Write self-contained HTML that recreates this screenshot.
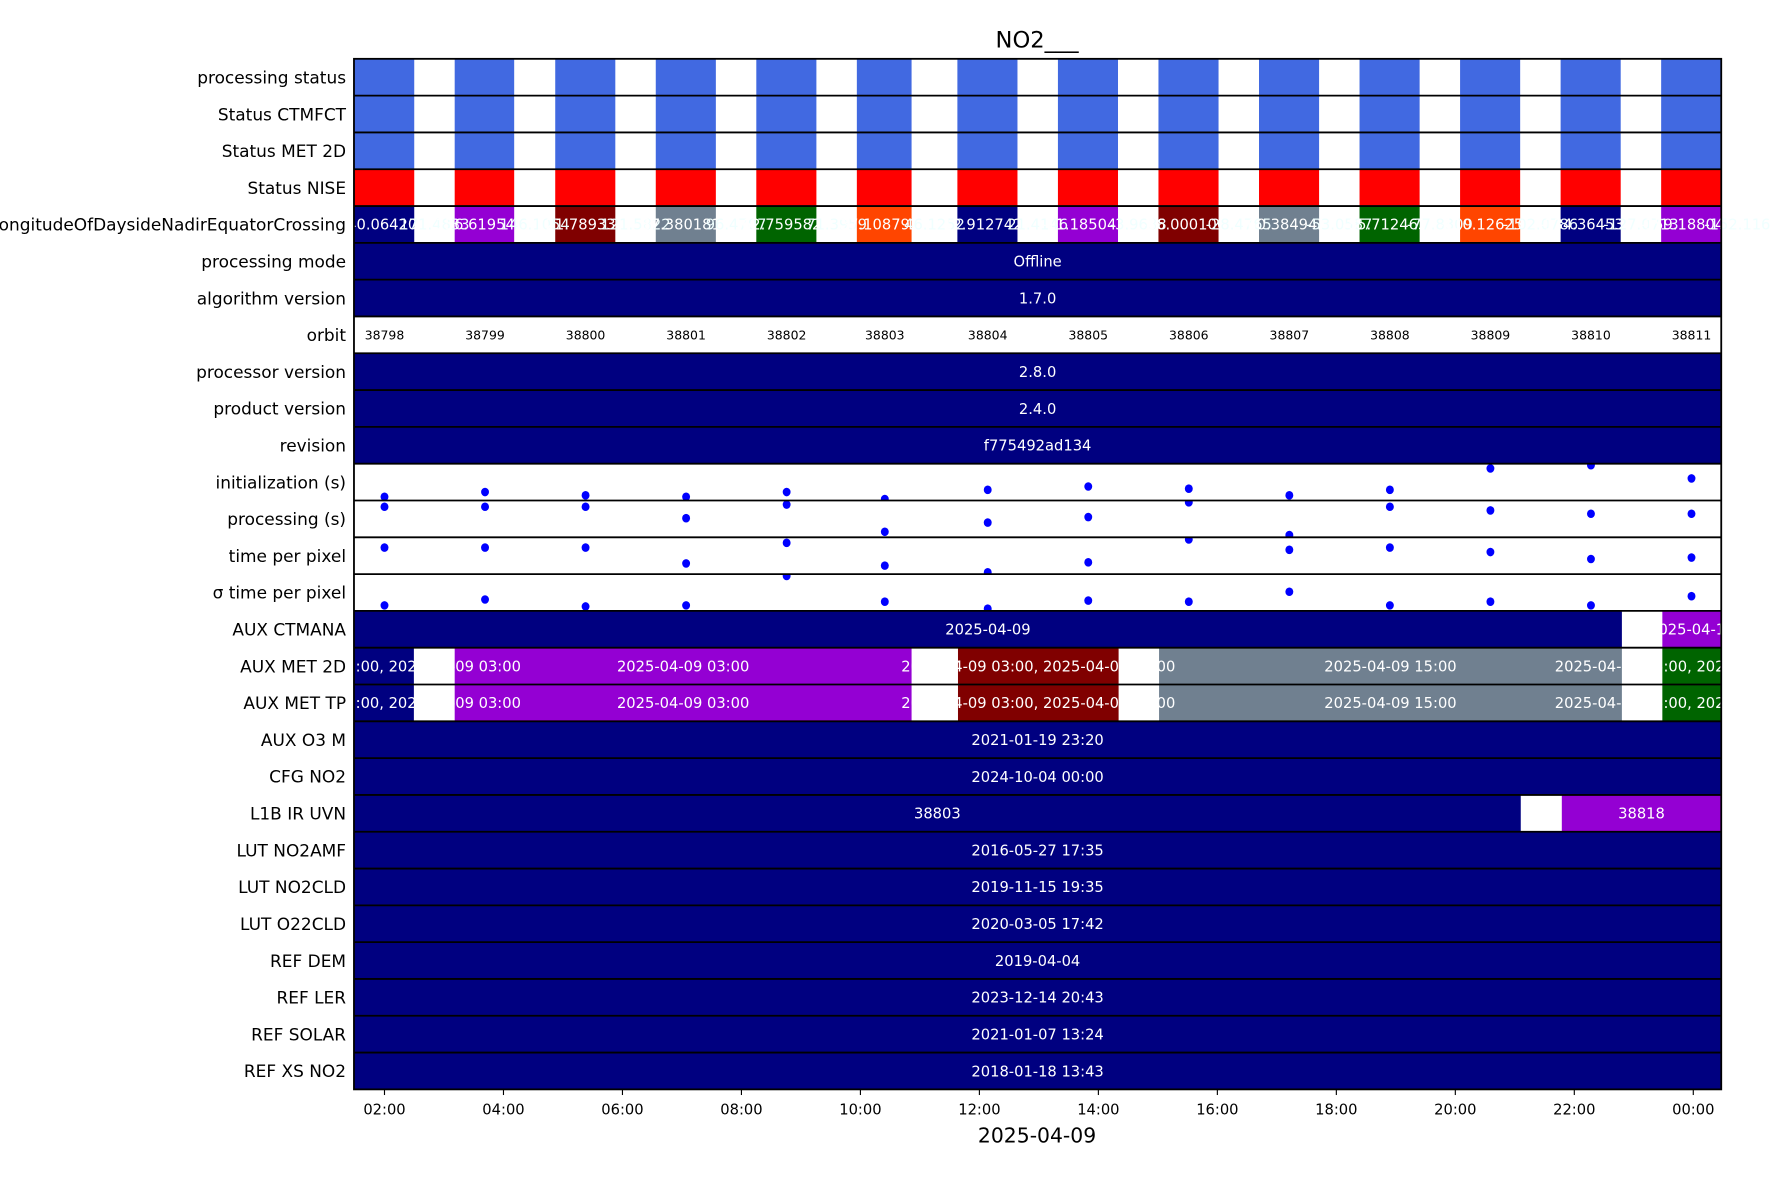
<!DOCTYPE html>
<html><head><meta charset="utf-8"><style>
html,body{margin:0;padding:0;background:#fff;width:1771px;height:1181px;overflow:hidden}
svg text{font-family:"DejaVu Sans","Liberation Sans",sans-serif}
</style></head><body>
<svg id="chart" width="1771" height="1181" viewBox="0 0 1566 1044" preserveAspectRatio="none" xmlns="http://www.w3.org/2000/svg">
<rect x="0" y="0" width="1566" height="1044" fill="#fff"/>
<text x="917" y="42" font-size="20" text-anchor="middle">NO2___</text>
<text x="917" y="1010" font-size="18" text-anchor="middle">2025-04-09</text>
<g id="bars"></g>
<g id="dots"></g>
<g id="texts"></g>
<g id="lines"></g>
<g id="ylabels"></g>
<g id="xaxis"></g>
</svg>
<script>
const rowLabels = ["processing status","Status CTMFCT","Status MET 2D","Status NISE","LongitudeOfDaysideNadirEquatorCrossing","processing mode","algorithm version","orbit","processor version","product version","revision","initialization (s)","processing (s)","time per pixel","\u03c3 time per pixel","AUX CTMANA","AUX MET 2D","AUX MET TP","AUX O3   M","CFG NO2","L1B IR UVN","LUT NO2AMF","LUT NO2CLD","LUT O22CLD","REF DEM","REF LER","REF SOLAR","REF XS NO2"];
const orbitStart = [1.49,3.18,4.87,6.56,8.25,9.94,11.63,13.32,15.01,16.70,18.39,20.08,21.77,23.46];
const orbitEnd = [2.50,4.18,5.88,7.57,9.26,10.86,12.64,14.33,16.02,17.71,19.40,21.09,22.78,24.47];
const orbitNumbers = ["38798","38799","38800","38801","38802","38803","38804","38805","38806","38807","38808","38809","38810","38811"];
const orbitMid = [2.0,3.69,5.38,7.07,8.76,10.41,12.14,13.83,15.52,17.21,18.90,20.59,22.28,23.97];
const lonColors = ["#000080","#9400d3","#800000","#708090","#006400","#ff4500","#000080","#9400d3","#800000","#708090","#006400","#ff4500","#000080","#9400d3"];
const lonLabels = ["-140.0642089","156.6195495","121.7893375","87.3801818","62.7595825","37.1087921","12.9127426","-11.1850472","-36.0001065","-60.3849426","-85.7124631","-110.1262511","-134.3645324","-159.1880491"];
const gapLabels = ["171.4833","146.1054","121.5822","96.4707","71.3959","46.1252","21.4146","-3.9638","-28.4765","-53.0587","-77.8309","-102.0786","-127.0713","-152.1164"];
const initVals = [0.10,0.23,0.14,0.10,0.23,0.04,0.29,0.38,0.32,0.14,0.29,0.87,0.96,0.60];
const procVals = [0.83,0.83,0.83,0.52,0.89,0.15,0.40,0.55,0.95,0.06,0.83,0.73,0.64,0.64];
const tppVals = [0.72,0.72,0.72,0.29,0.85,0.23,0.05,0.32,0.94,0.66,0.72,0.60,0.41,0.45];
const sigmaVals = [0.15,0.31,0.12,0.15,0.95,0.25,0.06,0.28,0.25,0.52,0.15,0.25,0.15,0.40];
const fullRows = {5:"Offline",6:"1.7.0",8:"2.8.0",9:"2.4.0",10:"f775492ad134",18:"2021-01-19 23:20",19:"2024-10-04 00:00",21:"2016-05-27 17:35",22:"2019-11-15 19:35",23:"2020-03-05 17:42",24:"2019-04-04",25:"2023-12-14 20:43",26:"2021-01-07 13:24",27:"2018-01-18 13:43"};
const ctmanaSegs = [[1.487,22.80,"#000080","2025-04-09"],[23.48,24.47,"#9400d3","2025-04-10"]];
const met2dSegs = [[1.487,2.494,"#000080","2025-04-08 21:00, 2025-04-09 03:00"],[3.18,10.86,"#9400d3","2025-04-09 03:00"],[11.64,14.34,"#800000","2025-04-09 03:00, 2025-04-09 15:00"],[15.02,22.80,"#708090","2025-04-09 15:00"],[23.48,24.47,"#006400","2025-04-09 15:00, 2025-04-10 03:00"]];
const mettpSegs = [[1.487,2.494,"#000080","2025-04-08 21:00, 2025-04-09 03:00"],[3.18,10.86,"#9400d3","2025-04-09 03:00"],[11.64,14.34,"#800000","2025-04-09 03:00, 2025-04-09 15:00"],[15.02,22.80,"#708090","2025-04-09 15:00"],[23.48,24.47,"#006400","2025-04-09 15:00, 2025-04-10 03:00"]];
const l1bSegs = [[1.487,21.10,"#000080","38803"],[21.79,24.47,"#9400d3","38818"]];
const tickHours = [2,4,6,8,10,12,14,16,18,20,22,24];
const tickLabels = ["02:00","04:00","06:00","08:00","10:00","12:00","14:00","16:00","18:00","20:00","22:00","00:00"];

const NS="http://www.w3.org/2000/svg";
const X0=313,X1=1522,Y0=52,Y1=963,H0=1.487,H1=24.47;
const rowH=(Y1-Y0)/rowLabels.length;
function xs(h){return X0+(h-H0)/(H1-H0)*(X1-X0);}
function rowTop(i){return Y0+i*rowH;}
function mk(tag,parent,attrs){const e=document.createElementNS(NS,tag);for(const k in attrs)e.setAttribute(k,attrs[k]);parent.appendChild(e);return e;}
const bars=document.getElementById('bars'),dots=document.getElementById('dots'),texts=document.getElementById('texts'),lines=document.getElementById('lines'),yl=document.getElementById('ylabels'),xa=document.getElementById('xaxis');
const svg=document.getElementById('chart');
const defs=mk('defs',svg,{});
const cp=mk('clipPath',defs,{id:'plotclip'});mk('rect',cp,{x:X0,y:Y0,width:X1-X0,height:Y1-Y0});

function bar(row,h0,h1,color,name){
  const r=mk('rect',bars,{x:xs(h0),y:rowTop(row),width:Math.max(0,xs(h1)-xs(h0)),height:rowH,fill:color});
  
  
}
function label(row,h,txt,color,size,clip,name){
  const t=mk('text',texts,{x:xs(h),y:rowTop(row)+rowH/2+size*0.36,'font-size':size,'text-anchor':'middle',fill:color});
  if(clip)t.setAttribute('clip-path','url(#plotclip)');
  t.textContent=txt;
  
  
}
const statusColors=["#4169e1","#4169e1","#4169e1","#ff0000"];
for(let r=0;r<4;r++){for(let i=0;i<orbitStart.length;i++){bar(r,orbitStart[i],orbitEnd[i],statusColors[r],'status-bar');}}
for(let i=0;i<orbitStart.length;i++){
  bar(4,orbitStart[i],orbitEnd[i],lonColors[i],'longitude-bar');
}
for(let i=0;i<orbitStart.length;i++){
  label(4,(orbitStart[i]+orbitEnd[i])/2,lonLabels[i],"#ffffff",13,false,'longitude-value');
  const gm=i<orbitStart.length-1?(orbitEnd[i]+orbitStart[i+1])/2:orbitEnd[i]+0.35;
  label(4,gm,gapLabels[i],"#f0ffff",13,false,'longitude-gap-value');
}
for(const k in fullRows){bar(+k,H0,H1,"#000080",'full-row-bar');label(+k,(H0+H1)/2,fullRows[k],"#ffffff",13,false,'row-value');}
for(let i=0;i<orbitNumbers.length;i++){label(7,orbitMid[i],orbitNumbers[i],"#000000",11,false,'orbit-number');}
function segRow(row,segs,clip,name){
  for(const s of segs)bar(row,s[0],s[1],s[2],name+'-bar');
  for(const s of segs)label(row,(s[0]+s[1])/2,s[3],"#ffffff",13,clip,name+'-label');
}
segRow(15,ctmanaSegs,true,'aux-ctmana');
segRow(16,met2dSegs,false,'aux-met-2d');
segRow(17,mettpSegs,false,'aux-met-tp');
segRow(20,l1bSegs,false,'l1b-ir-uvn');
function dotRow(row,vals,name){
  const c=mk('clipPath',defs,{id:'rc'+row});mk('rect',c,{x:X0,y:rowTop(row),width:X1-X0,height:rowH});
  for(let i=0;i<vals.length;i++){
    const d=mk('ellipse',dots,{cx:xs(orbitMid[i]),cy:rowTop(row+1)-vals[i]*rowH,rx:3.5,ry:3.8,fill:"#0000ff",'clip-path':'url(#rc'+row+')'});
    
    
  }
}
dotRow(11,initVals,'initialization');
dotRow(12,procVals,'processing');
dotRow(13,tppVals,'time-per-pixel');
dotRow(14,sigmaVals,'sigma-time-per-pixel');
for(let i=1;i<rowLabels.length;i++){const l=mk('line',lines,{x1:X0,x2:X1,y1:rowTop(i),y2:rowTop(i),stroke:"#000",'stroke-width':1.6});
  
  }
const fr=mk('rect',lines,{x:X0,y:Y0,width:X1-X0,height:Y1-Y0,fill:'none',stroke:'#000','stroke-width':1.6});


for(let i=0;i<rowLabels.length;i++){
  const t=mk('text',yl,{x:306,y:rowTop(i)+rowH/2+5.5,'font-size':15,'text-anchor':'end',fill:'#000'});
  t.textContent=rowLabels[i];
  
  
}
for(let i=0;i<tickHours.length;i++){
  const x=xs(tickHours[i]);
  const l=mk('line',xa,{x1:x,x2:x,y1:Y1,y2:Y1+5,stroke:'#000','stroke-width':1});
  
  
  const t=mk('text',xa,{x:x,y:985,'font-size':13,'text-anchor':'middle'});
  t.textContent=tickLabels[i];
  
  
}
</script>
</body></html>
